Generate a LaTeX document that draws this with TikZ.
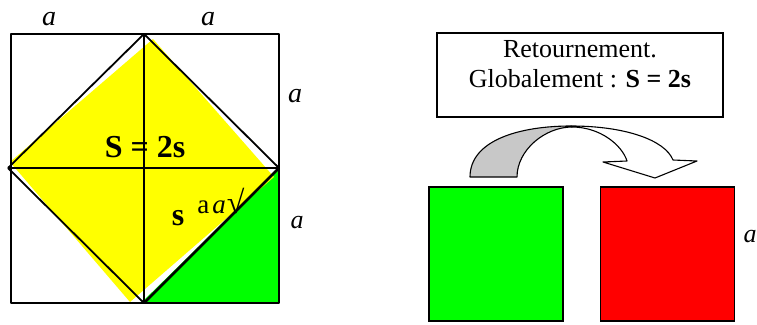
\documentclass[tikz,border=0pt]{standalone}
\usepackage{fontspec}
\setmainfont{Liberation Serif}
\usetikzlibrary{positioning}
\definecolor{fillyellow}{HTML}{FFFF00}
\definecolor{fillgreen} {HTML}{00FF00}
\definecolor{fillred}   {HTML}{FF0000}
\definecolor{backgray}  {HTML}{C8C8C8}
\tikzset{
  edge/.style     ={draw=black, line width=1.8pt, line join=round},
  diag/.style     ={draw=black, line width=2.6pt, line cap=round},
  sqbox/.style    ={draw=black, line width=1.2pt, inner sep=0pt,
                    minimum width=134pt, minimum height=134pt},
  notebox/.style  ={draw=black, line width=1.5pt, inner sep=0pt,
                    minimum width=286pt, minimum height=84pt},
  notetext/.style ={align=center, inner sep=0pt,
                    font=\fontsize{26}{30}\selectfont},
  lbl/.style      ={anchor=base, inner sep=0pt,
                    font=\fontsize{28}{28}\selectfont\itshape},
  big/.style      ={anchor=base, inner sep=0pt,
                    font=\fontsize{32}{32}\selectfont\bfseries},
  bandback/.style ={draw=black, fill=backgray, line width=1.1pt, line join=round},
  bandfront/.style={draw=black, fill=white, line width=1.1pt, line join=round},
}
\begin{document}
\begin{tikzpicture}[x=1pt,y=-1pt]
  \useasboundingbox (0,0) rectangle (757,324);
  % the cut square
  \coordinate (N) at (144,34);
  \coordinate (E) at (279,168);
  \coordinate (S) at (144,303);
  \coordinate (W) at (8,168);
  \fill[fillgreen] (141,303) -- (E) -- (279,303) -- cycle;
  \fill[fillyellow] (153,39) -- (274,177) -- (130,302) -- (10,162) -- cycle;
  \draw[edge] (11,34) rectangle (279,303);
  \draw[edge] (N) -- (S);
  \draw[edge] (W) -- (E);
  \draw[edge] (W) -- (N) -- (E);
  \draw[edge] (W) -- (S);
  \draw[diag] (S) -- (E);
  \node[lbl] (atopl) at (49,25) {a};
  \node[lbl] (atopr) at (208,25) {a};
  \node[lbl] (aright) at (295,102) {a};
  \node[lbl,font=\fontsize{26}{26}\selectfont\itshape] (alow) at (297,228) {a};
  \node[big] (bigs) at (145,157) {S = 2s};
  \node[big] (smalls) at (178,225) {s};
  \node[anchor=base,inner sep=0pt,font=\fontsize{27}{27}\selectfont] (root) at (221,213)
    {a\hspace{3pt}\textit{a}\hspace{1pt}{\fontsize{32}{32}\selectfont √}};
  % the turn over
  \node[notebox] (note) at (580,75) {};
  \node[notetext,below=8pt of note.north] (notetxt)
    {Retournement.\\Globalement : \textbf{S = 2s}};
  \node[sqbox,fill=fillgreen] (greensq) at (496,254) {};
  \node[sqbox,fill=fillred,right=36pt of greensq] (redsq) {};
  \node[lbl,font=\fontsize{26}{26}\selectfont\itshape] (ared) at (750,242) {a};
  \filldraw[bandback] (470,177) .. controls (470,140) and (520,126) .. (571,126)
    -- (572,127) .. controls (545,127) and (517,150) .. (517,177) -- cycle;
  \filldraw[bandfront] (571,126) .. controls (625,126) and (665,140) .. (673,160)
    -- (697,161) -- (655,178) -- (603,162) -- (627,161)
    .. controls (622,145) and (600,127) .. (572,127) -- cycle;
\end{tikzpicture}
\end{document}
